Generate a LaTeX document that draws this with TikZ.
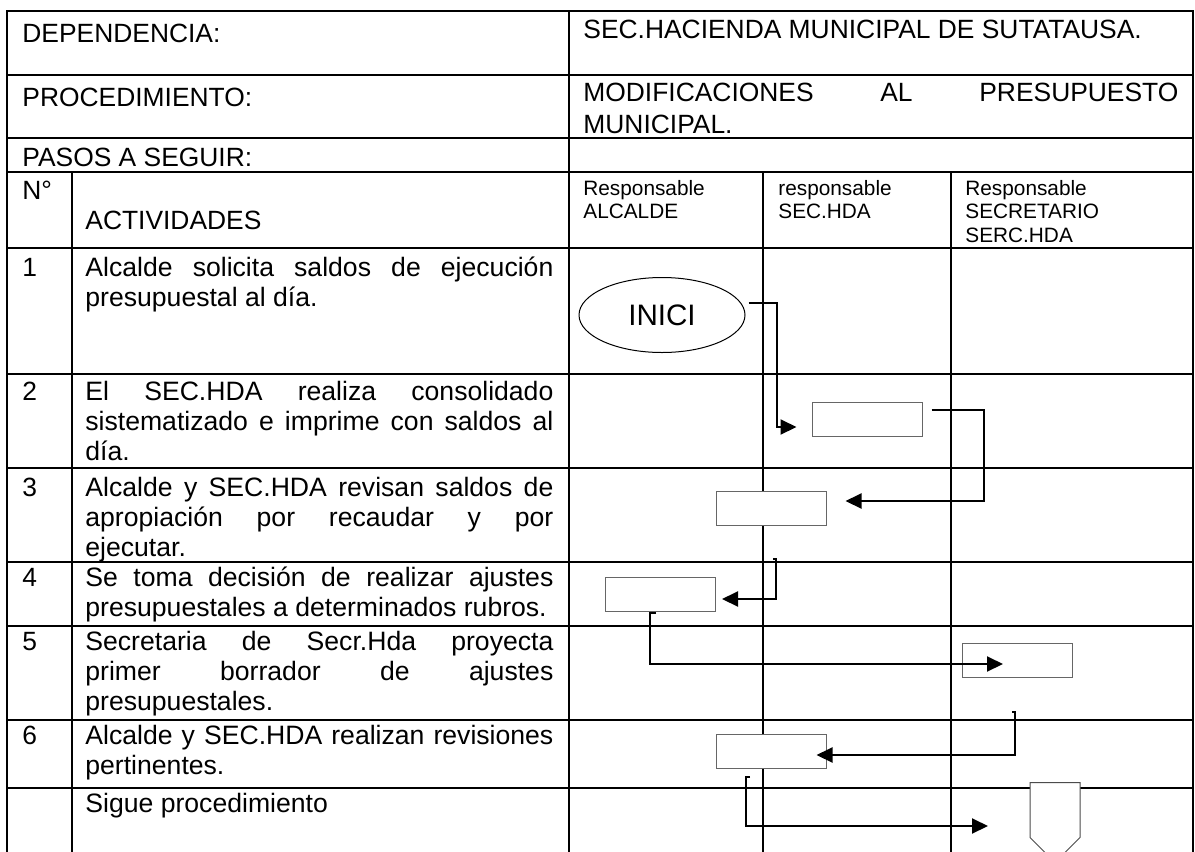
\documentclass[tikz,border=0pt]{standalone}
\usepackage{fontspec}
\setmainfont{Liberation Sans}
\usetikzlibrary{shapes.geometric, shapes.symbols, arrows.meta, positioning, calc}

\begin{document}
\begin{tikzpicture}[
  x=0.5pt, y=-0.5pt,
  tableline/.style={line width=1pt},
  txt/.style={anchor=base west, inner sep=0pt, font=\fontsize{13.2}{16}\selectfont},
  headsmall/.style={anchor=base west, inner sep=0pt, text width=88pt, align=left,
                    font=\fontsize{10.4}{11.9}\selectfont},
  activity/.style={anchor=base west, inner sep=0pt, text width=234pt, align=justify,
                   font=\fontsize{13.3}{15}\selectfont},
  box/.style={rectangle, draw=black!60, fill=white, line width=0.5pt,
              minimum width=55pt, minimum height=17pt, inner sep=0pt},
  terminal/.style={ellipse, draw=black, fill=white, line width=0.5pt, minimum width=83pt,
                   minimum height=37.5pt, inner sep=0pt, font=\fontsize{14.8}{16}\selectfont},
  offpage/.style={signal, signal to=south, signal pointer angle=90, draw=black!70,
                  fill=white, line width=0.5pt, minimum width=25pt, minimum height=27.5pt,
                  inner sep=0pt},
  arr/.style={-{Triangle[length=8pt, width=7.5pt]}, line width=1pt}
]
  \useasboundingbox (0,0) rectangle (1195,852);

  \draw[tableline] (7,852) -- (7,11) -- (1193,11) -- (1193,852);
  \draw[tableline] (7,75)  -- (1193,75);
  \draw[tableline] (7,138) -- (1193,138);
  \draw[tableline] (7,172) -- (1193,172);
  \draw[tableline] (7,248) -- (1193,248);
  \draw[tableline] (7,374) -- (1193,374);
  \draw[tableline] (7,468) -- (1193,468);
  \draw[tableline] (7,562) -- (1193,562);
  \draw[tableline] (7,626) -- (1193,626);
  \draw[tableline] (7,720) -- (1193,720);
  \draw[tableline] (7,788) -- (1193,788);
  \draw[tableline] (72,172)  -- (72,852);
  \draw[tableline] (569,11)  -- (569,852);
  \draw[tableline] (763,172) -- (763,852);
  \draw[tableline] (951,172) -- (951,852);

  \node[txt] (dep)    at (22,42)  {DEPENDENCIA:};
  \node[txt] (depval) at (583,38) {SEC.HACIENDA MUNICIPAL DE SUTATAUSA.};
  \node[txt] (proc)   at (22,106) {PROCEDIMIENTO:};
  \node[txt, text width=297.5pt, align=justify] (procval) at (583,101)
       {MODIFICACIONES AL PRESUPUESTO\linebreak MUNICIPAL.};
  \node[txt] (pasos)  at (22,166) {PASOS A SEGUIR:};
  \node[txt] (num)    at (22,199) {N°};
  \node[txt] (act)    at (85,229) {ACTIVIDADES};
  \node[headsmall] (resp1) at (583,195) {Responsable\\ALCALDE};
  \node[headsmall] (resp2) at (778,195) {responsable\\SEC.HDA};
  \node[headsmall] (resp3) at (965,195) {Responsable\\SECRETARIO\\SERC.HDA};

  \node[txt] (n1) at (22,276) {1};
  \node[txt] (n2) at (22,400) {2};
  \node[txt] (n3) at (22,496) {3};
  \node[txt] (n4) at (22,586) {4};
  \node[txt] (n5) at (22,650) {5};
  \node[txt] (n6) at (22,744) {6};

  \node[activity] (a1) at (85,276) {Alcalde solicita saldos de ejecución\linebreak presupuestal al día.};
  \node[activity] (a2) at (85,400) {El SEC.HDA realiza consolidado\linebreak sistematizado e imprime con saldos al\linebreak día.};
  \node[activity] (a3) at (85,496) {Alcalde y SEC.HDA revisan saldos de\linebreak apropiación por recaudar y por\linebreak ejecutar.};
  \node[activity] (a4) at (85,586) {Se toma decisión de realizar ajustes\linebreak presupuestales a determinados rubros.};
  \node[activity] (a5) at (85,650) {Secretaria de Secr.Hda proyecta\linebreak primer borrador de ajustes\linebreak presupuestales.};
  \node[activity] (a6) at (85,744) {Alcalde y SEC.HDA realizan revisiones\linebreak pertinentes.};
  \node[activity] (a7) at (85,812) {Sigue procedimiento};

  \node[terminal] (inici) at (662,315) {INICI};
  \node[box] (b2) at (867,419) {};
  \node[box] (b3) at (771,508) {};
  \node[box] (b4) at (660.5,594.5) {};
  \node[box] (b5) at (1017.5,660) {};
  \node[box] (b6) at (771,751) {};
  \node[offpage, anchor=north] (fin) at (1055,782) {};

  \draw[arr] ($(inici.east)+(3,-12)$) -- ++(28,0) |- ($(b2.west)+(-15,8)$);
  \draw[arr] ($(b2.east)+(9,-9)$)     -- ++(52,0) |- ($(b3.east)+(19,-7)$);
  \draw[arr] ($(b3.south)+(2,33)$)    -- ++(3,0)  |- ($(b4.east)+(6,4.5)$);
  \draw[arr] ($(b4.south)+(-4.5,1)$)  -- ++(-6,0) |- ($(b5.west)+(41,4)$);
  \draw[arr] ($(b5.south)+(-5.5,34)$) -- ++(3,0)  |- ($(b6.east)+(-10,4)$);
  \draw[arr] ($(b6.south)+(-21,8)$)   -- ++(-4,0) |- ($(fin.north)+(-67,44)$);
\end{tikzpicture}
\end{document}
